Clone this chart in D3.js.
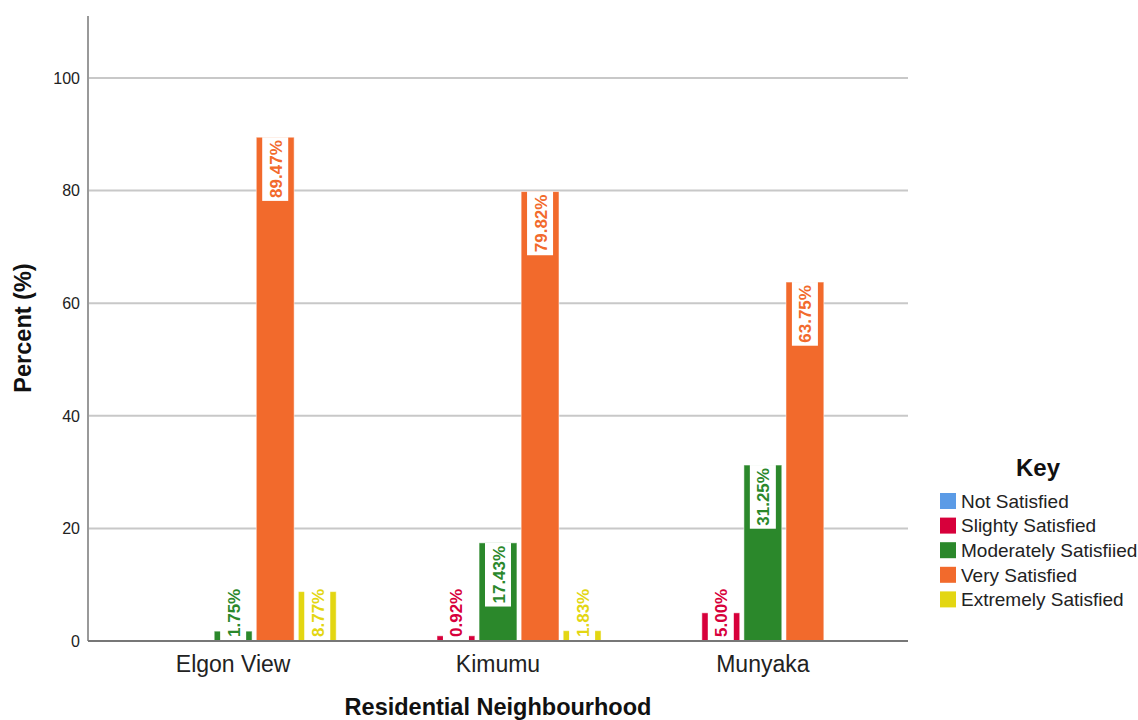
<!DOCTYPE html>
<html lang="en">
<head>
  <meta charset="UTF-8">
  <title>Satisfaction by Residential Neighbourhood</title>
  <style>
    body {
      margin: 0;
      background: #fff;
      font-family: "Liberation Sans", Arial, sans-serif;
    }
    svg { display: block; }
    .grid line { stroke: #c8c8c8; stroke-width: 2px; }
    .tick-label { font-size: 16px; fill: #222; }
    .cat-label { font-size: 23px; fill: #222; }
    .axis-title { font-size: 23.5px; font-weight: bold; fill: #111; }
    .bar-label { font-size: 17px; font-weight: bold; }
    .legend-text { font-size: 19px; fill: #222; }
  </style>
</head>
<body>
  <svg id="chart"></svg>

  <script src="https://d3js.org/d3.v7.min.js"></script>
  <script>
    // --- data ---
    const neighbourhoods = ["Elgon View", "Kimumu", "Munyaka"];
    const keys = ["Not Satisfied", "Slighty Satisfied", "Moderately Satisfiied", "Very Satisfied", "Extremely Satisfied"];
    const notSatisfied = [0, 0, 0];
    const slightlySatisfied = [0, 0.92, 5.00];
    const moderatelySatisfied = [1.75, 17.43, 31.25];
    const verySatisfied = [89.47, 79.82, 63.75];
    const extremelySatisfied = [8.77, 1.83, 0];
    const yTicks = [0, 20, 40, 60, 80, 100];
    const colors = ["#5b9be6", "#d7003b", "#2b882b", "#f26a2c", "#e3d612"];

    const series = [notSatisfied, slightlySatisfied, moderatelySatisfied, verySatisfied, extremelySatisfied];

    // --- layout ---
    const width = 1138, height = 720;
    const plotLeft = 88, plotRight = 908;
    const plotTop = 16, plotBottom = 641;

    const svg = d3.select("#chart").attr("width", width).attr("height", height);

    const y = d3.scaleLinear().domain([0, 111]).range([plotBottom, plotTop]);
    const x0 = d3.scaleBand().domain(neighbourhoods).range([128, 868]).paddingInner(0.206);
    const x1 = d3.scaleBand().domain(keys).range([0, x0.bandwidth()]).paddingInner(0.1).paddingOuter(0.05);
    const color = d3.scaleOrdinal().domain(keys).range(colors);

    // gridlines
    svg.append("g").attr("class", "grid")
      .selectAll("line")
      .data(yTicks.filter(d => d > 0))
      .join("line")
      .attr("x1", plotLeft).attr("x2", plotRight)
      .attr("y1", d => y(d)).attr("y2", d => y(d));

    // y tick labels
    svg.append("g")
      .selectAll("text")
      .data(yTicks)
      .join("text")
      .attr("class", "tick-label")
      .attr("x", plotLeft - 8)
      .attr("y", d => y(d))
      .attr("dy", "0.36em")
      .attr("text-anchor", "end")
      .text(d => d);

    // bars
    const rows = [];
    neighbourhoods.forEach((n, i) => {
      keys.forEach((k, j) => rows.push({ n: n, key: k, value: series[j][i] }));
    });

    const groups = svg.append("g")
      .selectAll("g")
      .data(neighbourhoods)
      .join("g")
      .attr("transform", d => `translate(${x0(d)},0)`);

    groups.selectAll("rect")
      .data(n => rows.filter(r => r.n === n && r.value > 0))
      .join("rect")
      .attr("x", d => x1(d.key))
      .attr("y", d => y(d.value))
      .attr("width", x1.bandwidth())
      .attr("height", d => y(0) - y(d.value))
      .attr("fill", d => color(d.key))
      .attr("stroke", "#fff")
      .attr("stroke-opacity", 0.5)
      .attr("stroke-width", 1);

    // value labels (rotated, on a white box)
    groups.each(function(n) {
      const g = d3.select(this);
      rows.filter(r => r.n === n && r.value > 0).forEach(d => {
        const cx = x1(d.key) + x1.bandwidth() / 2;
        const lab = g.append("g");
        const box = lab.append("rect").attr("fill", "#fff");
        const txt = lab.append("text")
          .attr("class", "bar-label")
          .attr("fill", color(d.key))
          .attr("text-anchor", "end")
          .attr("dominant-baseline", "central")
          .text(d.value.toFixed(2) + "%");
        const len = txt.node().getComputedTextLength();
        const boxH = len + 6, boxW = 26;
        let top = y(d.value);
        if (top + boxH > plotBottom - 1) top = plotBottom - 1 - boxH;
        box.attr("x", cx - boxW / 2).attr("y", top).attr("width", boxW).attr("height", boxH);
        txt.attr("transform", `translate(${cx + 1},${top + 3}) rotate(-90)`);
      });
    });

    // axes lines
    svg.append("line")
      .attr("x1", plotLeft).attr("x2", plotLeft)
      .attr("y1", plotTop).attr("y2", plotBottom)
      .attr("stroke", "#999").attr("stroke-width", 2);
    svg.append("line")
      .attr("x1", plotLeft).attr("x2", plotRight)
      .attr("y1", plotBottom).attr("y2", plotBottom)
      .attr("stroke", "#777").attr("stroke-width", 2);

    // category labels
    svg.append("g")
      .selectAll("text")
      .data(neighbourhoods)
      .join("text")
      .attr("class", "cat-label")
      .attr("x", d => x0(d) + x0.bandwidth() / 2)
      .attr("y", 672)
      .attr("text-anchor", "middle")
      .text(d => d);

    // axis titles
    svg.append("text")
      .attr("class", "axis-title")
      .attr("text-anchor", "middle")
      .attr("transform", `translate(31,328) rotate(-90)`)
      .text("Percent (%)");

    svg.append("text")
      .attr("class", "axis-title")
      .attr("text-anchor", "middle")
      .attr("x", 498)
      .attr("y", 715)
      .text("Residential Neighbourhood");

    // legend
    const legend = svg.append("g").attr("transform", "translate(940,0)");
    legend.append("text")
      .attr("x", 98)
      .attr("y", 476)
      .attr("text-anchor", "middle")
      .style("font-size", "24px")
      .style("font-weight", "bold")
      .attr("fill", "#111")
      .text("Key");

    const items = legend.selectAll("g.item")
      .data(keys)
      .join("g")
      .attr("class", "item")
      .attr("transform", (d, i) => `translate(0,${501 + i * 24.6})`);

    items.append("rect")
      .attr("x", 0).attr("y", -8)
      .attr("width", 16).attr("height", 16)
      .attr("fill", d => color(d));

    items.append("text")
      .attr("class", "legend-text")
      .attr("x", 21)
      .attr("y", 0)
      .attr("dy", "0.36em")
      .text(d => d);
  </script>
</body>
</html>
